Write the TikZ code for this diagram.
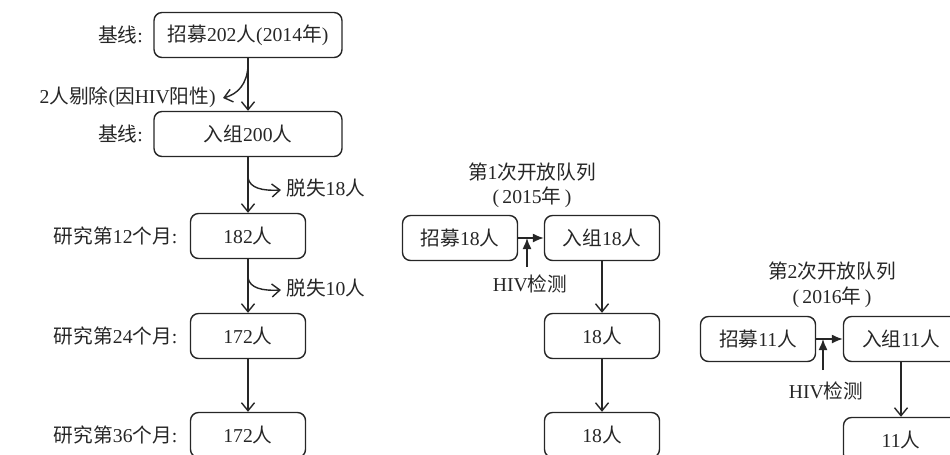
\documentclass[tikz,border=0pt]{standalone}
\usepackage{fontspec}
\setmainfont{Liberation Serif}
\newfontfamily\cjk{Noto Sans CJK SC}
\usetikzlibrary{positioning,arrows.meta}
\newcommand{\zh}[1]{{\cjk #1}}

\begin{document}
\begin{tikzpicture}[x=0.02cm, y=-0.02cm, font=\fontsize{11.2}{13}\selectfont,
    every node/.style={text=black!85},
    box/.style={draw=black!85, line width=0.8pt, rounded corners=0.16cm, minimum width=2.3cm, minimum height=0.9cm, inner sep=0pt},
    wide box/.style={box, minimum width=3.76cm},
    side label/.style={inner sep=0pt},
    flow/.style={draw=black!85, line width=0.8pt, -{Straight Barb[length=1.6mm,width=2.6mm]}},
    feed/.style={draw=black!85, line width=0.8pt, -{Latex[length=2.2mm,width=1.8mm]}}]
    \clip (0,0) rectangle (950,454);

    % main cohort
    \node [wide box] (recruit) at (248,35) {\zh{招募}202\zh{人}(2014\zh{年})};
    \node [wide box] (enrol) at (248,134) {\zh{入组}200\zh{人}};
    \node [box] (month12) at (248,236) {182\zh{人}};
    \node [box] (month24) at (248,336) {172\zh{人}};
    \node [box] (month36) at (248,435) {172\zh{人}};

    \node [side label, left=0.2cm of recruit] (recruit label) {\zh{基线}:};
    \node [side label, left=0.2cm of enrol] (enrol label) {\zh{基线}:};
    \node [side label, left=0.24cm of month12] (month12 label) {\zh{研究第}12\zh{个月}:};
    \node [side label, left=0.24cm of month24] (month24 label) {\zh{研究第}24\zh{个月}:};
    \node [side label, left=0.24cm of month36] (month36 label) {\zh{研究第}36\zh{个月}:};

    \path[flow] (recruit) edge (enrol);
    \path[flow] (enrol) edge (month12);
    \path[flow] (month12) edge (month24);
    \path[flow] (month24) edge (month36);

    % side branches
    \coordinate (excl start) at (248,66);
    \coordinate (excl end) at (223,98);
    \node [side label, anchor=east] (excl) at (216,97) {2\zh{人剔除}(\zh{因}HIV\zh{阳性})};
    \path[flow] (excl start) .. controls (247,84) and (238,94) .. (excl end);

    \coordinate (loss1 start) at (248,178);
    \coordinate (loss1 end) at (281,190);
    \node [side label, anchor=west] (loss1) at (286,188) {\zh{脱失}18\zh{人}};
    \path[flow] (loss1 start) .. controls (250,188) and (262,191) .. (loss1 end);

    \coordinate (loss2 start) at (248,278);
    \coordinate (loss2 end) at (281,290);
    \node [side label, anchor=west] (loss2) at (286,288) {\zh{脱失}10\zh{人}};
    \path[flow] (loss2 start) .. controls (250,288) and (262,291) .. (loss2 end);

    % first open cohort
    \node (open1 title) at (532,172) {\zh{第}1\zh{次开放队列}};
    \node (open1 year) at (532,197) {(\,2015\zh{年}\,)};
    \node [box] (open1 recruit) at (460,238) {\zh{招募}18\zh{人}};
    \node [box] (open1 enrol) at (602,238) {\zh{入组}18\zh{人}};
    \node [box] (open1 m1) at (602,336) {18\zh{人}};
    \node [box] (open1 m2) at (602,435) {18\zh{人}};
    \node [side label] (open1 test) at (530,284) {HIV\zh{检测}};
    \coordinate (open1 check) at (527,238);
    \coordinate (open1 foot) at (527,267);

    \draw[feed] (open1 recruit) -- (open1 enrol);
    \draw[feed] (open1 foot) -- (open1 check);
    \path[flow] (open1 enrol) edge (open1 m1);
    \path[flow] (open1 m1) edge (open1 m2);

    % second open cohort
    \node (open2 title) at (832,271) {\zh{第}2\zh{次开放队列}};
    \node (open2 year) at (832,297) {(\,2016\zh{年}\,)};
    \node [box] (open2 recruit) at (758,339) {\zh{招募}11\zh{人}};
    \node [box] (open2 enrol) at (901,339) {\zh{入组}11\zh{人}};
    \node [box] (open2 m1) at (901,440) {11\zh{人}};
    \node [side label] (open2 test) at (826,391) {HIV\zh{检测}};
    \coordinate (open2 check) at (823,339);
    \coordinate (open2 foot) at (823,370);

    \draw[feed] (open2 recruit) -- (open2 enrol);
    \draw[feed] (open2 foot) -- (open2 check);
    \path[flow] (open2 enrol) edge (open2 m1);
\end{tikzpicture}
\end{document}
